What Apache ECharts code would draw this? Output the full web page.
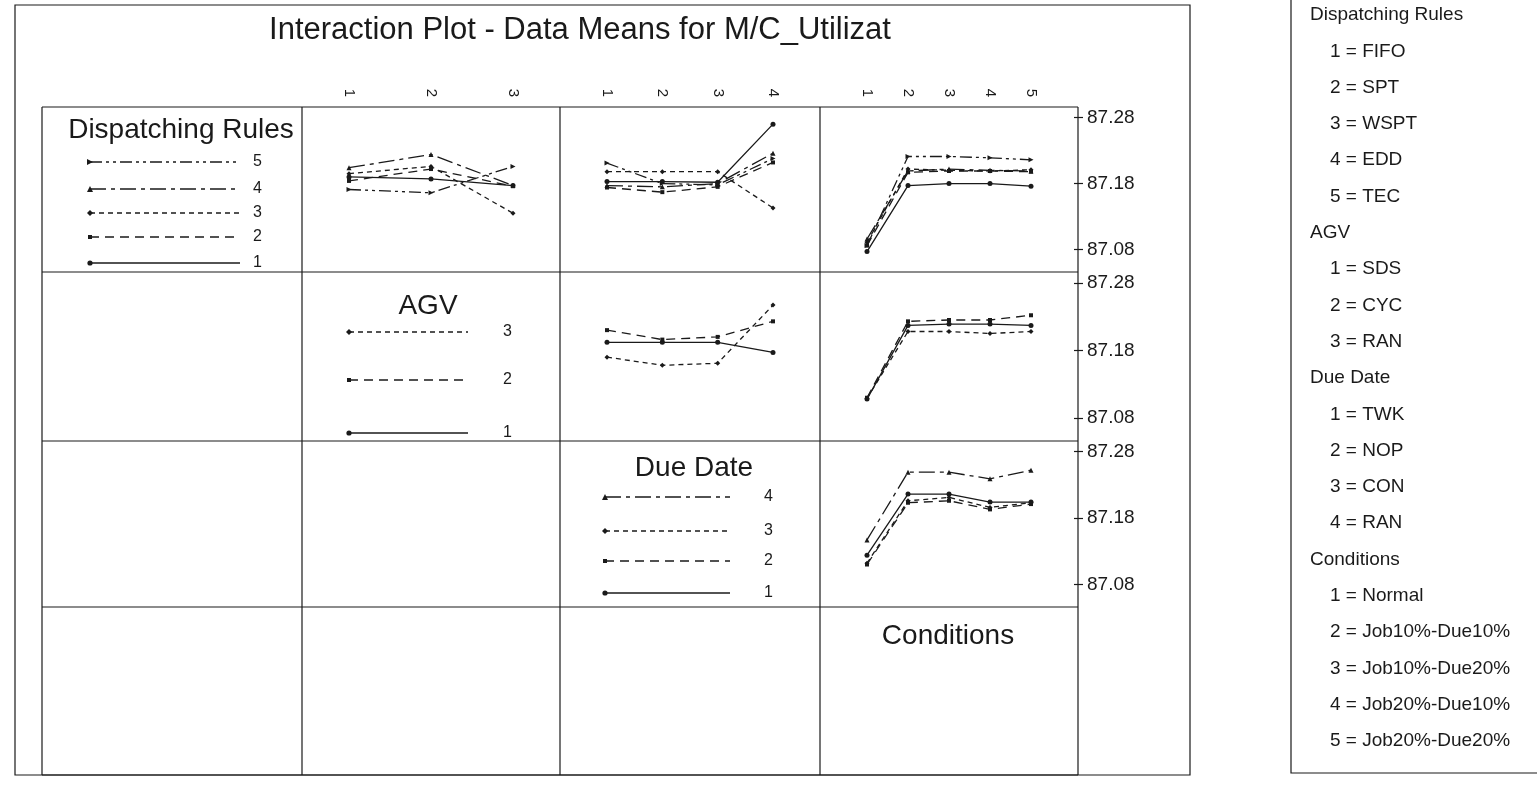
<!DOCTYPE html>
<html><head><meta charset="utf-8">
<script src="https://cdn.jsdelivr.net/npm/echarts@6/dist/echarts.min.js"></script>
<style>html,body{margin:0;padding:0;background:#fff}#c{width:1537px;height:787px}</style>
</head><body><div id="c"></div>
<script>
// ---------------- data ----------------
const chartTitle = 'Interaction Plot - Data Means for M/C_Utilizat';
const factorNames = ['Dispatching Rules', 'AGV', 'Due Date', 'Conditions'];
const drLevels = ['1', '2', '3', '4', '5'];
const agvLevels = ['1', '2', '3'];
const dueLevels = ['1', '2', '3', '4'];
const condLevels = ['1', '2', '3', '4', '5'];
const yTickValues = [87.08, 87.18, 87.28];
const yTickLabels = ['87.08', '87.18', '87.28'];

// means of M/C utilization; rows = trace factor levels, cols = x factor levels
const drByAgv = [
  [87.190, 87.187, 87.177],
  [87.184, 87.202, 87.176],
  [87.195, 87.206, 87.135],
  [87.204, 87.224, 87.177],
  [87.171, 87.166, 87.206]
];
const drByDue = [
  [87.183, 87.183, 87.182, 87.270],
  [87.174, 87.167, 87.175, 87.212],
  [87.198, 87.198, 87.198, 87.143],
  [87.177, 87.175, 87.180, 87.226],
  [87.211, 87.180, 87.178, 87.218]
];
const drByCond = [
  [87.077, 87.177, 87.180, 87.180, 87.176],
  [87.086, 87.197, 87.199, 87.199, 87.198],
  [87.091, 87.202, 87.200, 87.199, 87.201],
  [87.096, 87.199, 87.202, 87.200, 87.199],
  [87.086, 87.221, 87.221, 87.219, 87.216]
];
const agvByDue = [
  [87.192, 87.192, 87.192, 87.177],
  [87.210, 87.196, 87.200, 87.223],
  [87.170, 87.158, 87.161, 87.247]
];
const agvByCond = [
  [87.108, 87.217, 87.219, 87.219, 87.217],
  [87.110, 87.223, 87.225, 87.225, 87.232],
  [87.109, 87.208, 87.208, 87.205, 87.208]
];
const dueByCond = [
  [87.124, 87.216, 87.216, 87.204, 87.204],
  [87.110, 87.203, 87.206, 87.193, 87.201],
  [87.112, 87.206, 87.211, 87.196, 87.203],
  [87.147, 87.249, 87.249, 87.239, 87.252]
];

const legendDR = ['Dispatching Rules', '1 = FIFO', '2 = SPT', '3 = WSPT', '4 = EDD', '5 = TEC'];
const legendAGV = ['AGV', '1 = SDS', '2 = CYC', '3 = RAN'];
const legendDue = ['Due Date', '1 = TWK', '2 = NOP', '3 = CON', '4 = RAN'];
const legendCond = ['Conditions', '1 = Normal', '2 = Job10%-Due10%', '3 = Job10%-Due20%', '4 = Job20%-Due10%', '5 = Job20%-Due20%'];

// ---------------- layout ----------------
const FONT = '"Liberation Sans", Arial, sans-serif';
const INK = '#1a1a1a';
const colX = [42, 302, 560, 820, 1078];
const rowY = [107, 272, 441, 607, 775];
const PAD = 47;
const Y_MIN = 87.046, Y_MAX = 87.296;
const levels = [drLevels, agvLevels, dueLevels, condLevels];

const styles = [
  { type: 'solid', symbol: 'circle', rot: 0 },
  { type: [9, 6], symbol: 'rect', rot: 0 },
  { type: [5, 4], symbol: 'diamond', rot: 0 },
  { type: [16, 5, 4, 5], symbol: 'triangle', rot: 0 },
  { type: [12, 4, 3, 4, 3, 4], symbol: 'triangle', rot: -90 }
];

const panels = [
  { r: 0, c: 1, data: drByAgv },
  { r: 0, c: 2, data: drByDue },
  { r: 0, c: 3, data: drByCond },
  { r: 1, c: 2, data: agvByDue },
  { r: 1, c: 3, data: agvByCond },
  { r: 2, c: 3, data: dueByCond }
];

const grid = [], xAxis = [], yAxis = [], series = [];
panels.forEach((p, i) => {
  const x0 = colX[p.c], x1 = colX[p.c + 1], y0 = rowY[p.r], y1 = rowY[p.r + 1];
  grid.push({ left: x0 + PAD, top: y0, width: x1 - x0 - 2 * PAD, height: y1 - y0 });
  const k = levels[p.c].length;
  xAxis.push({
    type: 'value', gridIndex: i, min: 1, max: k, interval: 1,
    position: 'top',
    axisLine: { show: false }, axisTick: { show: false }, splitLine: { show: false },
    axisLabel: {
      show: p.r === 0, rotate: 90, margin: 10, fontSize: 15, color: INK, fontFamily: FONT,
      formatter: v => levels[p.c][v - 1] || ''
    }
  });
  const showY = p.c === 3;
  const yIdx = yAxis.length;
  yAxis.push({
    type: 'value', gridIndex: i, min: Y_MIN, max: Y_MAX, position: 'right', offset: PAD,
    splitLine: { show: false },
    axisLine: { show: false },
    axisTick: { show: showY, length: 5, lineStyle: { color: INK, width: 1.2 }, customValues: yTickValues },
    axisLabel: {
      show: showY, margin: 9, fontSize: 19, color: INK, fontFamily: FONT,
      customValues: yTickValues,
      formatter: v => yTickLabels[yTickValues.findIndex(t => Math.abs(t - v) < 1e-6)] || ''
    }
  });
  if (showY) {
    yAxis.push({
      type: 'value', gridIndex: i, min: Y_MIN, max: Y_MAX, position: 'right', offset: PAD,
      splitLine: { show: false }, axisLine: { show: false }, axisLabel: { show: false },
      axisTick: { show: true, inside: true, length: 4, lineStyle: { color: INK, width: 1.2 }, customValues: yTickValues }
    });
  }
  p.data.forEach((row, j) => {
    const s = styles[j];
    series.push({
      type: 'line', xAxisIndex: i, yAxisIndex: yIdx,
      data: row.map((v, q) => [q + 1, v]),
      symbol: s.symbol, symbolSize: s.symbol === 'rect' ? 4 : 5, symbolRotate: s.rot,
      itemStyle: { color: INK },
      lineStyle: { color: INK, width: 1.3, type: s.type },
      silent: true, animation: false
    });
  });
});

// ---------------- graphics ----------------
const g = [];
function line(x1, y1, x2, y2, w, dash) {
  g.push({ type: 'line', silent: true, shape: { x1, y1, x2, y2 },
    style: { stroke: INK, lineWidth: w || 1, lineDash: dash || null } });
}
function text(t, x, y, size, align, vAlign) {
  g.push({ type: 'text', silent: true, x, y,
    style: { text: t, font: size + 'px ' + FONT, fill: INK, textAlign: align || 'left', textVerticalAlign: vAlign || 'middle' } });
}
function marker(kind, rot, x, y) {
  const s = 3;
  if (kind === 'circle') g.push({ type: 'circle', shape: { cx: x, cy: y, r: 2.6 }, style: { fill: INK } });
  else if (kind === 'rect') g.push({ type: 'rect', shape: { x: x - 2, y: y - 2, width: 4, height: 4 }, style: { fill: INK } });
  else if (kind === 'diamond') g.push({ type: 'polygon', shape: { points: [[x, y - s], [x + s, y], [x, y + s], [x - s, y]] }, style: { fill: INK } });
  else if (rot === 0) g.push({ type: 'polygon', shape: { points: [[x, y - s], [x + s, y + s], [x - s, y + s]] }, style: { fill: INK } });
  else g.push({ type: 'polygon', shape: { points: [[x + s, y], [x - s, y - s], [x - s, y + s]] }, style: { fill: INK } });
}
function key(j, xa, xb, y, label, lx) {
  const s = styles[j];
  line(xa, y, xb, y, 1.3, s.type === 'solid' ? null : s.type);
  marker(s.symbol, s.rot, xa, y);
  text(label, lx, y, 16, 'left');
}

// outer frame
g.push({ type: 'rect', silent: true, shape: { x: 15, y: 5, width: 1175, height: 770 }, style: { fill: 'none', stroke: INK, lineWidth: 1.2 } });
// matrix lines
colX.forEach(x => line(x, rowY[0], x, rowY[4], 1.2));
rowY.forEach(y => line(colX[0], y, colX[4], y, 1.2));

// diagonal panel legends
text(factorNames[0], 181, 130, 28, 'center');
[162, 189, 213, 237, 263].forEach((y, idx) => { const j = 4 - idx; key(j, 90, 240, y, drLevels[j], 253); });
text(factorNames[1], 428, 306, 28, 'center');
[332, 380, 433].forEach((y, idx) => { const j = 2 - idx; key(j, 349, 468, y, agvLevels[j], 503); });
text(factorNames[2], 694, 468, 28, 'center');
[497, 531, 561, 593].forEach((y, idx) => { const j = 3 - idx; key(j, 605, 730, y, dueLevels[j], 764); });
text(factorNames[3], 948, 636, 28, 'center');

// right-hand legend box
g.push({ type: 'rect', silent: true, shape: { x: 1291, y: -5, width: 260, height: 778 }, style: { fill: 'none', stroke: INK, lineWidth: 1.2 } });
let ly = 15;
[legendDR, legendAGV, legendDue, legendCond].forEach(block => {
  block.forEach((t, i) => {
    text(t, i === 0 ? 1310 : 1330, ly, 19, 'left');
    ly += 36.3;
  });
});

const chart = echarts.init(document.getElementById('c'), null, { renderer: 'canvas' });
chart.setOption({
  backgroundColor: '#fff',
  animation: false,
  title: { text: chartTitle, left: 575, top: 10, textAlign: 'center',
    textStyle: { fontSize: 31, fontWeight: 'normal', fontFamily: FONT, color: INK } },
  grid, xAxis, yAxis, series,
  graphic: g
});
</script>
</body></html>
